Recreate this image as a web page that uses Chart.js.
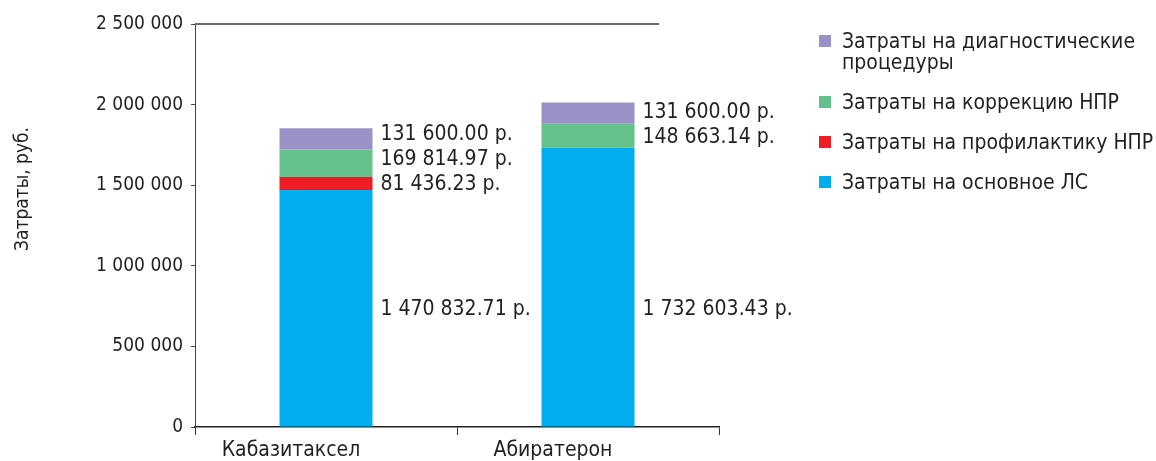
<!DOCTYPE html>
<html>
<head>
<meta charset="utf-8">
<script src="https://cdn.jsdelivr.net/npm/chart.js@4/dist/chart.umd.min.js"></script>
<style>
html,body{margin:0;padding:0;background:#fff;}
#wrap{width:1156px;height:461px;position:relative;}
</style>
</head>
<body>
<div id="wrap"><canvas id="c" width="1156" height="461"></canvas></div>
<script>
const categories = ['Кабазитаксел', 'Абиратерон'];
const seriesNames = [
  'Затраты на основное ЛС',
  'Затраты на профилактику НПР',
  'Затраты на коррекцию НПР',
  'Затраты на диагностические процедуры'
];
const legendLines = [
  ['Затраты на основное ЛС'],
  ['Затраты на профилактику НПР'],
  ['Затраты на коррекцию НПР'],
  ['Затраты на диагностические', 'процедуры']
];
const mainDrug = [1470832.71, 1732603.43];
const prophylaxis = [81436.23, 0];
const correction = [169814.97, 148663.14];
const diagnostics = [131600.00, 131600.00];
const colors = ['#00AEEF', '#EE1C25', '#64C18C', '#9A92C6'];
const yTicks = [0, 500000, 1000000, 1500000, 2000000, 2500000];
const yTitle = 'Затраты, руб.';

const FONT = '"DejaVu Sans Condensed", "DejaVu Sans", sans-serif';
const TXT = '#231F20';

function fmtThousands(v) {
  return String(Math.round(v)).replace(/\B(?=(\d{3})+(?!\d))/g, ' ');
}
function fmtRub(v) {
  const parts = v.toFixed(2).split('.');
  return parts[0].replace(/\B(?=(\d{3})+(?!\d))/g, ' ') + '.' + parts[1] + ' р.';
}

const seriesData = [mainDrug, prophylaxis, correction, diagnostics];

const labelPlugin = {
  id: 'customDraw',
  afterDatasetsDraw(chart) {
    const ctx = chart.ctx;
    const ca = chart.chartArea;
    const y = chart.scales.y;
    // top border line
    ctx.save();
    ctx.strokeStyle = '#6b6b6b';
    ctx.lineWidth = 2;
    ctx.beginPath();
    ctx.moveTo(ca.left, y.getPixelForValue(2500000));
    ctx.lineTo(ca.left + (ca.right - ca.left) * 0.886, y.getPixelForValue(2500000));
    ctx.stroke();
    ctx.restore();

    // data labels
    ctx.save();
    ctx.font = '21px ' + FONT;
    ctx.fillStyle = TXT;
    ctx.textBaseline = 'middle';
    ctx.textAlign = 'left';
    // base series labels share one row (centre of the shortest base segment)
    const baseMeta = chart.getDatasetMeta(0);
    let baseRow = -Infinity;
    baseMeta.data.forEach(b => { baseRow = Math.max(baseRow, (b.y + b.base) / 2); });
    categories.forEach((cat, i) => {
      let prev = Infinity;
      chart.data.datasets.forEach((ds, di) => {
        const v = ds.data[i];
        if (!v) return;
        const meta = chart.getDatasetMeta(di);
        const bar = meta.data[i];
        const center = di === 0 ? baseRow : (bar.y + bar.base) / 2;
        let ly = Math.min(center, prev - 25);
        prev = di === 0 ? (bar.y + bar.base) / 2 : ly;
        const x = bar.x + bar.width / 2 + 8;
        ctx.fillText(fmtRub(v), x, ly + 1.5);
      });
    });
    ctx.restore();

    // y title
    ctx.save();
    ctx.font = '19px ' + FONT;
    ctx.fillStyle = TXT;
    ctx.textAlign = 'center';
    ctx.textBaseline = 'middle';
    ctx.translate(23, 189);
    ctx.rotate(-Math.PI / 2);
    ctx.fillText(yTitle, 0, 0);
    ctx.restore();

    // legend
    ctx.save();
    ctx.font = '21px ' + FONT;
    ctx.textBaseline = 'middle';
    ctx.textAlign = 'left';
    const order = [3, 2, 1, 0];
    let ty = 42;
    order.forEach(di => {
      const lines = legendLines[di];
      ctx.fillStyle = colors[di];
      ctx.fillRect(819, ty - 7, 12, 12);
      ctx.fillStyle = TXT;
      lines.forEach((ln, k) => ctx.fillText(ln, 842, ty + 1 + k * 21));
      ty += (lines.length - 1) * 21 + 40;
    });
    ctx.restore();
  }
};

new Chart(document.getElementById('c'), {
  type: 'bar',
  data: {
    labels: categories,
    datasets: seriesNames.map((n, i) => ({
      label: n,
      data: seriesData[i],
      backgroundColor: colors[i],
      borderWidth: 0,
      categoryPercentage: 1,
      barPercentage: 0.355
    }))
  },
  options: {
    responsive: false,
    animation: false,
    layout: { padding: { top: 24, right: 437, bottom: 0, left: 0 } },
    plugins: { legend: { display: false }, tooltip: { enabled: false } },
    scales: {
      x: {
        stacked: true,
        offset: true,
        afterFit: s => { s.height = 34; },
        grid: { display: true, drawOnChartArea: false, drawTicks: true, tickLength: 8, color: '#333', offset: true },
        border: { color: '#222', width: 1.5 },
        ticks: { color: TXT, font: { family: FONT, size: 21 }, padding: 3, labelOffset: -35 }
      },
      y: {
        stacked: true,
        min: 0,
        max: 2500000,
        afterFit: s => { s.width = 195; },
        afterBuildTicks: s => { s.ticks = yTicks.map(v => ({ value: v })); },
        grid: { display: true, drawOnChartArea: false, drawTicks: true, tickLength: 4, color: '#444' },
        border: { color: '#444', width: 1 },
        ticks: { color: TXT, font: { family: FONT, size: 19 }, padding: 8, callback: v => fmtThousands(v) }
      }
    }
  },
  plugins: [labelPlugin]
});
</script>
</body>
</html>
